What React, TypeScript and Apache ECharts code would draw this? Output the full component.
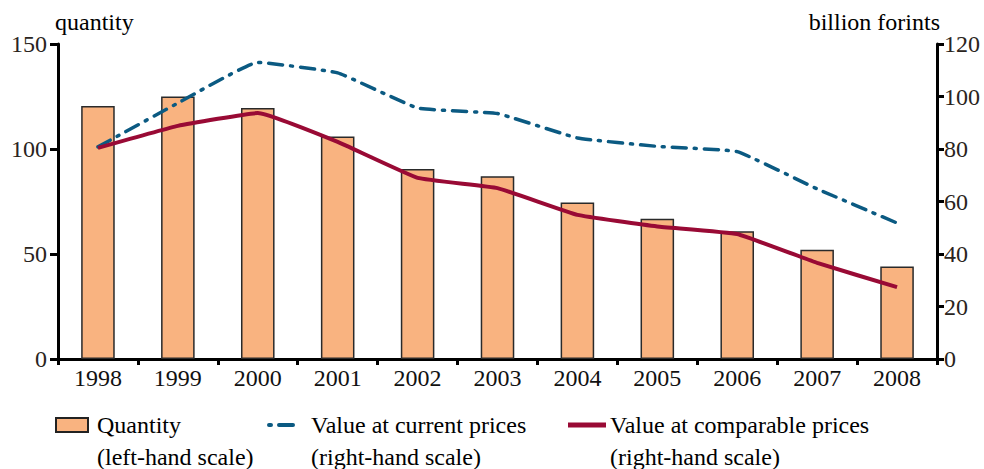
import React, { useEffect, useRef } from "react";
import * as echarts from "echarts";

const categories = ["1998", "1999", "2000", "2001", "2002", "2003", "2004", "2005", "2006", "2007", "2008"];
const quantity = [120.5, 125, 119.5, 106, 90.5, 87, 74.5, 66.8, 60.8, 52, 44];
const currentPrices = [80.8, 97.5, 113, 109, 95.6, 93.5, 84.2, 81, 79, 64.8, 51.8];
const comparablePrices = [80.4, 88.8, 93.7, 82.7, 69, 65.1, 54.9, 50.5, 47.6, 36.6, 27.4];
const leftTicks = { min: 0, max: 150, interval: 50 };
const rightTicks = { min: 0, max: 120, interval: 20 };

const FONT = "Times New Roman, Tinos, Liberation Serif, serif";
const BAR_COLOR = "#F9B380";
const BLUE = "#0B5A82";
const RED = "#990A35";
const FS = 24;

const txt = (text: string, x: number, y: number, align = "left") => ({
  type: "text",
  x,
  y,
  style: { text, fontFamily: FONT, fontSize: FS, fill: "#000", textAlign: align },
});

export default function App() {
  const ref = useRef<HTMLDivElement>(null);
  useEffect(() => {
    if (!ref.current) return;
    const chart = echarts.init(ref.current, null, { renderer: "svg" });
    const axisLine = { show: true, lineStyle: { color: "#000", width: 3 } };
    chart.setOption({
      animation: false,
      backgroundColor: "#fff",
      textStyle: { fontFamily: FONT },
      grid: { left: 58, right: 47, top: 44, bottom: 110 },
      xAxis: {
        type: "category",
        data: categories,
        boundaryGap: true,
        axisLine,
        axisTick: { show: true, length: 6, lineStyle: { color: "#000", width: 3 } },
        axisLabel: { color: "#111", fontFamily: FONT, fontSize: FS, margin: 7 },
      },
      yAxis: [
        {
          type: "value",
          position: "left",
          ...leftTicks,
          axisLine,
          axisTick: { show: true, length: 8, lineStyle: { color: "#000", width: 3 } },
          axisLabel: { color: "#2a2420", fontFamily: FONT, fontSize: FS, margin: 11 },
          splitLine: { show: false },
        },
        {
          type: "value",
          position: "right",
          ...rightTicks,
          axisLine,
          axisTick: { show: true, length: 7, lineStyle: { color: "#000", width: 3 } },
          axisLabel: { color: "#2a2420", fontFamily: FONT, fontSize: FS, margin: 7 },
          splitLine: { show: false },
        },
      ],
      series: [
        {
          name: "Quantity",
          type: "bar",
          yAxisIndex: 0,
          data: quantity,
          barWidth: "42%",
          itemStyle: { color: BAR_COLOR, borderColor: "#2a2a2a", borderWidth: 1.5 },
        },
        {
          name: "Value at current prices",
          type: "line",
          yAxisIndex: 1,
          data: currentPrices,
          symbol: "none",
          smooth: 0.1,
          lineStyle: { color: BLUE, width: 3.5, type: [14, 8, 2, 8], cap: "round", join: "round" },
        },
        {
          name: "Value at comparable prices",
          type: "line",
          yAxisIndex: 1,
          data: comparablePrices,
          symbol: "none",
          smooth: 0.1,
          lineStyle: { color: RED, width: 4, join: "round" },
        },
      ],
      graphic: [
        txt("quantity", 55, 10),
        txt("billion forints", 940, 10, "right"),
        { type: "rect", shape: { x: 56, y: 418, width: 32, height: 14 }, style: { fill: BAR_COLOR, stroke: "#222", lineWidth: 2 } },
        txt("Quantity", 97, 413),
        txt("(left-hand scale)", 97, 445),
        { type: "line", shape: { x1: 269, y1: 425, x2: 300, y2: 425 }, style: { stroke: BLUE, lineWidth: 4, lineDash: [2, 8, 14, 8], lineCap: "round" } },
        txt("Value at current prices", 311, 413),
        txt("(right-hand scale)", 311, 445),
        { type: "line", shape: { x1: 568, y1: 425, x2: 606, y2: 425 }, style: { stroke: RED, lineWidth: 5 } },
        txt("Value at comparable prices", 610, 413),
        txt("(right-hand scale)", 610, 445),
      ],
    });
    return () => chart.dispose();
  }, []);
  return <div ref={ref} style={{ width: 984, height: 469, position: "absolute", left: 0, top: 0 }} />;
}
